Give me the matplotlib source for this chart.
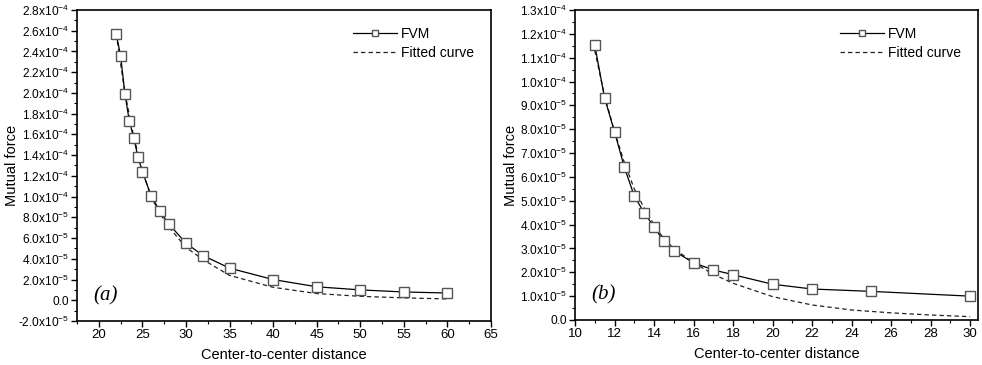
# mutual force vs center-to-center distance, FVM and fitted curve
import numpy as np
import matplotlib.pyplot as plt
from matplotlib.ticker import MultipleLocator, FuncFormatter

plt.rcParams['font.family'] = ['Liberation Sans', 'DejaVu Sans']
plt.rcParams['mathtext.fontset'] = 'custom'
plt.rcParams['mathtext.rm'] = 'Liberation Sans'
plt.rcParams['mathtext.default'] = 'regular'

# panel (a)
xa_fvm = [22, 22.5, 23, 23.5, 24, 24.5, 25, 26, 27, 28, 30, 32, 35, 40, 45, 50, 55, 60]
ya_fvm = [2.57e-4, 2.36e-4, 1.99e-4, 1.73e-4, 1.57e-4, 1.38e-4, 1.24e-4, 1.01e-4, 8.6e-5,
          7.4e-5, 5.5e-5, 4.3e-5, 3.1e-5, 2.0e-5, 1.3e-5, 1.0e-5, 8.0e-6, 7.0e-6]
xa_fit = [22, 23, 24, 25, 26, 27, 28, 30, 32, 35, 40, 45, 50, 55, 60]
ya_fit = [2.57e-4, 2.0e-4, 1.58e-4, 1.25e-4, 1.0e-4, 8.4e-5, 7.1e-5, 5.1e-5, 3.9e-5,
          2.4e-5, 1.25e-5, 6.5e-6, 3.8e-6, 2.3e-6, 1.3e-6]

# panel (b)
xb_fvm = [11, 11.5, 12, 12.5, 13, 13.5, 14, 14.5, 15, 16, 17, 18, 20, 22, 25, 30]
yb_fvm = [1.153e-4, 9.3e-5, 7.9e-5, 6.4e-5, 5.2e-5, 4.5e-5, 3.9e-5, 3.3e-5, 2.9e-5,
          2.4e-5, 2.1e-5, 1.9e-5, 1.5e-5, 1.3e-5, 1.2e-5, 1.0e-5]
xb_fit = [11, 11.5, 12, 12.5, 13, 13.5, 14, 14.5, 15, 16, 17, 18, 20, 22, 24, 26, 28, 30]
yb_fit = [1.13e-4, 9.4e-5, 7.9e-5, 6.6e-5, 5.5e-5, 4.7e-5, 4.0e-5, 3.4e-5, 3.0e-5,
          2.4e-5, 1.92e-5, 1.54e-5, 9.8e-6, 6.3e-6, 4.2e-6, 3.0e-6, 2.1e-6, 1.4e-6]


def sci_fmt(v, pos):
    if abs(v) < 1e-12:
        return '0.0'
    e = int(np.floor(np.log10(abs(v)) + 1e-9))
    m = v / 10 ** e
    return '%.1fx10$^{%d}$' % (m, e)


fig = plt.figure(figsize=(9.82, 3.65), dpi=100)
ax1 = fig.add_axes([77 / 982, 44 / 365, 414 / 982, 311 / 365])
ax2 = fig.add_axes([575 / 982, 45 / 365, 403 / 982, 310 / 365])

panels = [
    (ax1, xa_fvm, ya_fvm, xa_fit, ya_fit, (17.5, 65), (-2e-5, 2.8e-4), 5, 2e-5, '(a)', -0.14),
    (ax2, xb_fvm, yb_fvm, xb_fit, yb_fit, (10, 30.4), (0, 1.3e-4), 2, 1e-5, '(b)', -0.142),
]

for ax, xf, yf, xc, yc, xl, yl, xstep, ystep, tag, ylx in panels:
    ax.plot(xf, yf, color='black', lw=0.9, marker='s', markersize=6.5,
            markerfacecolor='white', markeredgecolor='#555555', markeredgewidth=1.0,
            label='FVM', zorder=3)
    ax.plot(xc, yc, color='#222222', lw=0.9, ls=(0, (3.5, 2.5)), label='Fitted curve', zorder=2)
    ax.set_xlim(xl)
    ax.set_ylim(yl)
    ax.xaxis.set_major_locator(MultipleLocator(xstep))
    ax.xaxis.set_minor_locator(MultipleLocator(xstep / 2))
    ax.yaxis.set_major_locator(MultipleLocator(ystep))
    ax.yaxis.set_minor_locator(MultipleLocator(ystep / 2))
    ax.yaxis.set_major_formatter(FuncFormatter(sci_fmt))
    ax.tick_params(which='major', direction='out', length=4, width=1, labelsize=8.6, pad=2)
    ax.tick_params(axis='x', which='major', labelsize=9.5)
    ax.tick_params(which='minor', direction='out', length=2.5, width=0.8)
    for s in ax.spines.values():
        s.set_linewidth(1.2)
    ax.set_xlabel('Center-to-center distance', fontsize=10.5, labelpad=5)
    ax.set_ylabel('Mutual force', fontsize=10.5)
    ax.yaxis.set_label_coords(ylx, 0.5)
    ax.text(0.04, 0.065, tag, transform=ax.transAxes, fontsize=15,
            family='Liberation Serif', style='italic')
    leg = ax.legend(loc='upper right', frameon=False, fontsize=10, handlelength=3.2,
                    handletextpad=0.3, labelspacing=0.35, markerscale=0.7,
                    borderaxespad=0.8)

fig.savefig('out.png', dpi=100)
